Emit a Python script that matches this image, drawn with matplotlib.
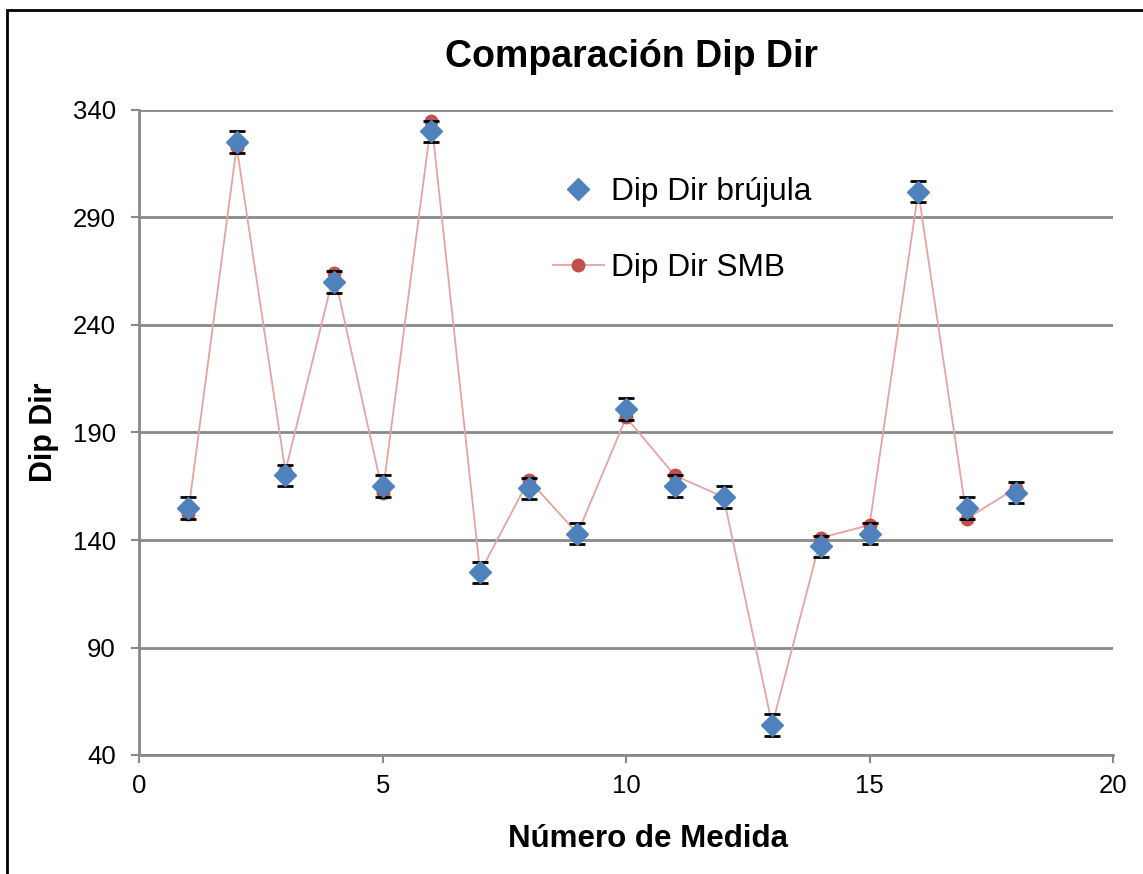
import numpy as np
import matplotlib as mpl
mpl.use('Agg')
import matplotlib.pyplot as plt
from matplotlib.patches import Rectangle

plt.rcParams['font.family'] = ['Liberation Sans', 'DejaVu Sans']

# datos
medida = np.arange(1, 19)
dip_brujula = [155, 325, 170, 260, 165, 330, 125, 164, 143, 201, 165, 160, 54, 137, 143, 302, 155, 162]
dip_smb = [152, 323, 172, 264, 162, 335, 125, 168, 143, 197, 170, 160, 54, 141, 147, 302, 150, 164]
error_brujula = [5] * 18

W, H = 1143, 874
fig = plt.figure(figsize=(W / 100, H / 100), dpi=100)
ax = fig.add_axes([139.3 / W, 1 - 755 / H, (1113 - 139.3) / W, (755 - 110) / H])

grid_col = '#898989'

ax.plot(medida, dip_smb, color='#E6A3A2', lw=1.3, marker='o', ms=9,
        mfc='#C0504D', mec='#C0504D', label='Dip Dir SMB', zorder=3)
ax.errorbar(medida, dip_brujula, yerr=error_brujula, fmt='none', ecolor='black',
            elinewidth=1.3, capsize=6, capthick=2, zorder=3.5)
ax.plot(medida, dip_brujula, ls='none', marker='D', ms=11.5, mfc='#4F81BD',
        mec='#4F81BD', label='Dip Dir brújula', zorder=4)

ax.set_xlim(0, 20)
ax.set_ylim(40, 340)
ax.set_xticks([0, 5, 10, 15, 20])
ax.set_yticks([40, 90, 140, 190, 240, 290, 340])
ax.yaxis.grid(True, color=grid_col, lw=2)
ax.set_axisbelow(True)
for s in ['top', 'right']:
    ax.spines[s].set_visible(False)
for s in ['left', 'bottom']:
    ax.spines[s].set_color(grid_col)
    ax.spines[s].set_linewidth(2)
ax.tick_params(axis='both', colors=grid_col, width=1.5, length=6, labelsize=18.5,
               labelcolor='black')
ax.tick_params(axis='y', pad=11)
ax.tick_params(axis='x', pad=8)

handles, labels = ax.get_legend_handles_labels()
leg = ax.legend(handles[::-1], labels[::-1], loc='center left',
                bbox_to_anchor=(553 / W, 1 - 230 / H), bbox_transform=fig.transFigure,
                frameon=False, fontsize=22.8, borderpad=0, borderaxespad=0,
                labelspacing=1.45, handlelength=1.6, handletextpad=0.22)

fig.text(631.5 / W, 1 - 67 / H, 'Comparación Dip Dir', ha='center', va='baseline',
         fontsize=27, fontweight='bold')
fig.text(648 / W, 1 - 847 / H, 'Número de Medida', ha='center', va='baseline',
         fontsize=22.5, fontweight='bold')
fig.text(52 / W, 1 - 432 / H, 'Dip Dir', ha='center', va='baseline', rotation=90,
         rotation_mode='anchor', fontsize=22, fontweight='bold')

# marco del area del grafico
fig.patches.append(Rectangle((7 / W, -0.05), 1.2, 1 - 10 / H + 0.05, transform=fig.transFigure,
                             fill=False, edgecolor='black', lw=2))

plt.savefig('out.png', dpi=100)
